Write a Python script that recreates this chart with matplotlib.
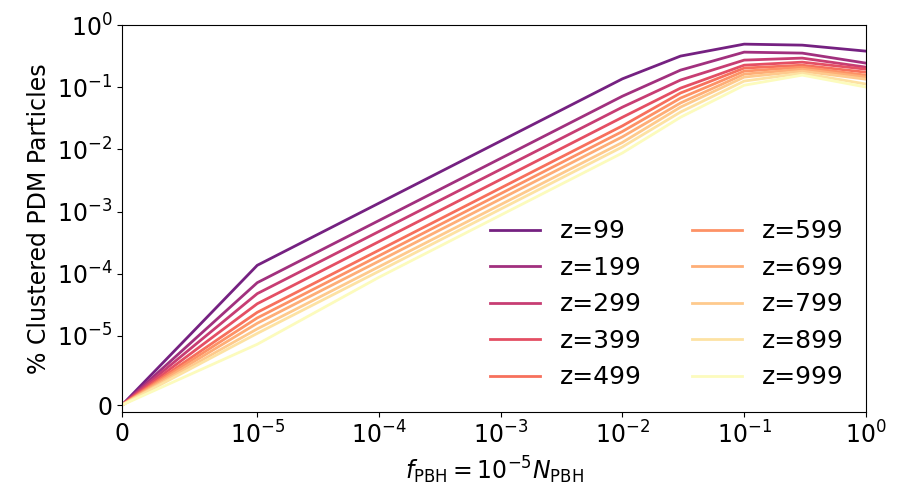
import matplotlib
matplotlib.use("Agg")
import matplotlib.pyplot as plt
import numpy as np

# f_PBH values (x) and clustered fraction in % per redshift
f_pbh = [0, 1e-5, 1e-4, 1e-3, 1e-2, 3e-2, 1e-1, 3e-1, 1]
redshifts = [99, 199, 299, 399, 499, 599, 699, 799, 899, 999]

z99 = [0, 1.37e-4, 1.37e-3, 1.37e-2, 0.137, 0.318, 0.495, 0.477, 0.382]
z199 = [0, 7.2e-5, 7.2e-4, 7.2e-3, 0.072, 0.189, 0.368, 0.355, 0.245]
z299 = [0, 4.8e-5, 4.8e-4, 4.8e-3, 0.048, 0.131, 0.274, 0.295, 0.211]
z399 = [0, 3.3e-5, 3.3e-4, 3.3e-3, 0.033, 0.097, 0.227, 0.254, 0.196]
z499 = [0, 2.4e-5, 2.4e-4, 2.4e-3, 0.024, 0.081, 0.204, 0.227, 0.175]
z599 = [0, 1.95e-5, 1.95e-4, 1.95e-3, 0.0195, 0.067, 0.182, 0.211, 0.157]
z699 = [0, 1.6e-5, 1.6e-4, 1.6e-3, 0.016, 0.056, 0.163, 0.196, 0.146]
z799 = [0, 1.3e-5, 1.3e-4, 1.3e-3, 0.013, 0.048, 0.146, 0.182, 0.135]
z899 = [0, 1.1e-5, 1.1e-4, 1.1e-3, 0.011, 0.040, 0.126, 0.169, 0.113]
z999 = [0, 8.8e-6, 8.8e-5, 8.8e-4, 0.0088, 0.033, 0.108, 0.157, 0.101]

series = [z99, z199, z299, z399, z499, z599, z699, z799, z899, z999]

# position of each line in the magma colormap
cmap_pos = [0.34, 0.45, 0.54, 0.62, 0.70, 0.77, 0.83, 0.89, 0.94, 0.995]


def main():
	fig = plt.figure(figsize=(9.05, 5.03), dpi=100)
	ax = fig.add_axes([0.1348, 0.181, 0.822, 0.769])
	colors = plt.cm.magma(cmap_pos)
	for z, vals, c in zip(redshifts, series, colors):
		ax.plot(f_pbh, vals, color=c, lw=2, label="z=%d" % z)

	ax.set_xscale("symlog", linthresh=1e-5)
	ax.set_yscale("symlog", linthresh=1e-5)
	ax.set_xlim(0, 1)
	ax.set_ylim(-1e-6, 1)
	ax.tick_params(labelsize=17)
	ax.set_xlabel(r"$f_{\rm PBH} = 10^{-5} N_{\rm PBH}$", fontsize=17)
	ax.set_ylabel("% Clustered PDM Particles", fontsize=17)
	ax.legend(ncol=2, frameon=False, fontsize=18, loc="lower right")
	fig.savefig("out.png", dpi=100)


if __name__ == "__main__":
	main()
